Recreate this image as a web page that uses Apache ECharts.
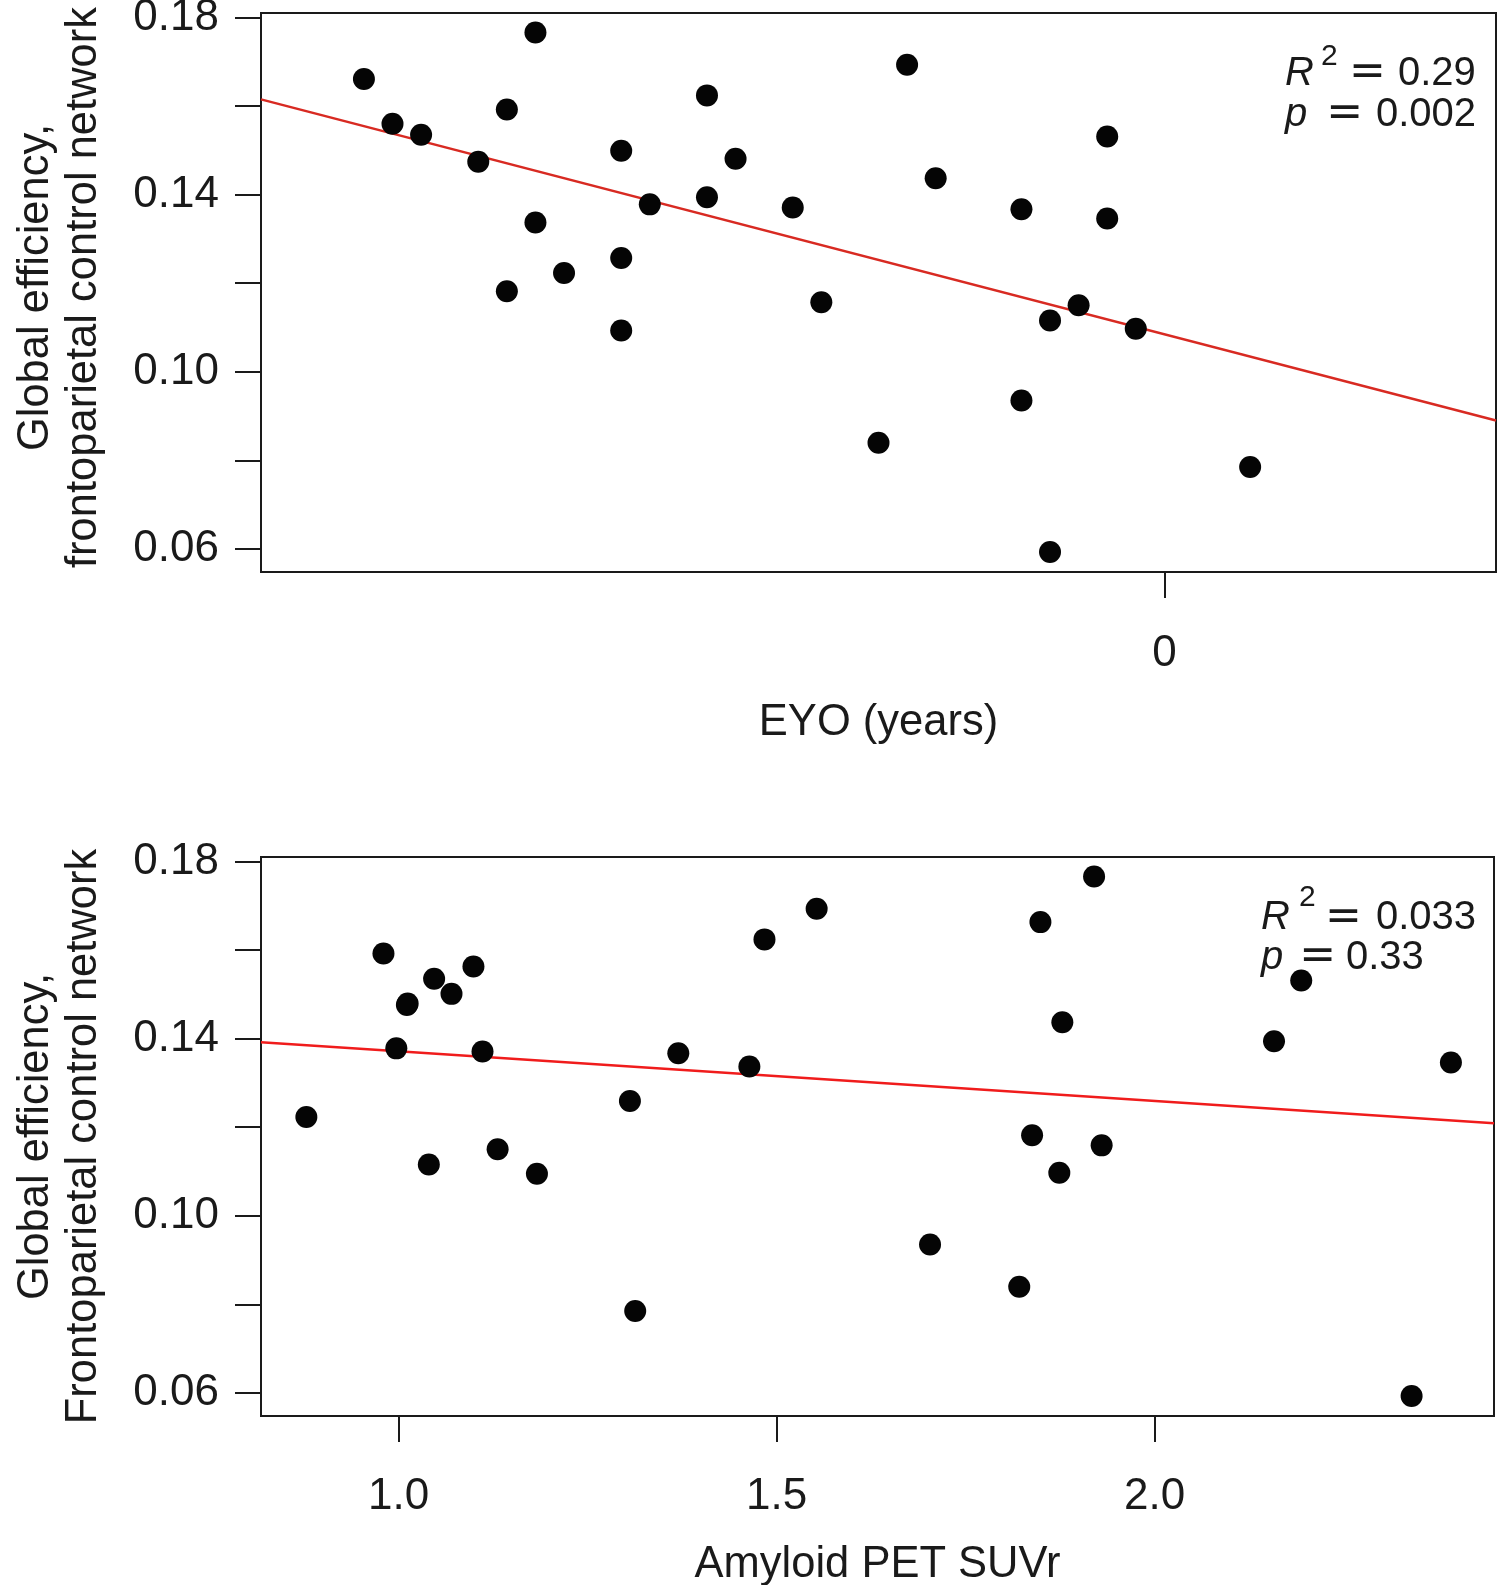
<!DOCTYPE html>
<html><head><meta charset="utf-8">
<script src="https://cdn.jsdelivr.net/npm/echarts@6/dist/echarts.min.js"></script>
<style>html,body{margin:0;padding:0;background:#fff}#c{width:1499px;height:1585px}</style>
</head><body><div id="c"></div>
<script>
// ---- Data ----
const eyoYears = [-28,-27,-26,-24,-23,-23,-22,-22,-21,-19,-19,-19,-18,-16,-16,-15,-13,-12,-10,-9,-8,-5,-5,-4,-4,-3,-2,-2,-1,3];
const effByEyo = [0.1661,0.1560,0.1535,0.1474,0.1592,0.1182,0.1766,0.1337,0.1223,0.1499,0.1257,0.1093,0.1378,0.1624,0.1394,0.1481,0.1371,0.1157,0.0840,0.1693,0.1437,0.1367,0.0935,0.1116,0.0593,0.1150,0.1531,0.1346,0.1097,0.0785];
const suvr = [0.878,0.980,0.997,1.011,1.012,1.040,1.047,1.070,1.099,1.111,1.131,1.183,1.306,1.313,1.370,1.464,1.484,1.553,1.703,1.821,1.838,1.849,1.874,1.878,1.920,1.930,2.158,2.194,2.340,2.392];
const effBySuvr = [0.1223,0.1592,0.1378,0.1476,0.1479,0.1116,0.1535,0.1501,0.1563,0.1371,0.1150,0.1095,0.1259,0.0785,0.1367,0.1337,0.1624,0.1693,0.0935,0.0840,0.1182,0.1663,0.1097,0.1437,0.1766,0.1159,0.1394,0.1531,0.0593,0.1346];
const fitEyoX = [-31.6, 11.6];
const fitEyoY = [0.1615, 0.0890];
const fitSuvrX = [0.818, 2.449];
const fitSuvrY = [0.1392, 0.1209];
const yTickValues = [0.06,0.08,0.10,0.12,0.14,0.16,0.18];
const yLabelValues = [0.06,0.10,0.14,0.18];
const eyoTickValues = [0];
const suvrTickValues = [1.0,1.5,2.0];
const yRange = [0.0548, 0.1810];
const eyoRange = [-31.6, 11.6];
const suvrRange = [0.818, 2.449];
const statsTop = ['0.29', '0.002'];
const statsBottom = ['0.033', '0.33'];
const yNameTop = 'Global efficiency,\nfrontoparietal control network';
const yNameBottom = 'Global efficiency,\nFrontoparietal control network';
const xNameTop = 'EYO (years)';
const xNameBottom = 'Amyloid PET SUVr';

// ---- Chart ----
const FONT = 'Liberation Sans, Arial, sans-serif';
const EQFONT = 'DejaVu Sans, sans-serif';
const INK = '#1a1a1a';
const zip = (a, b) => a.map((v, i) => [v, b[i]]);

function xAxis(gridIndex, range, ticks, name, gap, margin, fmt) {
  return {
    type: 'value', gridIndex, min: range[0], max: range[1],
    splitLine: {show: false}, axisLine: {show: false, onZero: false},
    axisTick: {show: true, customValues: ticks, length: 26, lineStyle: {color: INK, width: 2}},
    axisLabel: {show: true, customValues: ticks, margin, fontSize: 44, lineHeight: 48,
      fontFamily: FONT, color: INK, formatter: fmt},
    name, nameLocation: 'middle', nameGap: gap,
    nameTextStyle: {fontSize: 43.5, lineHeight: 48, fontFamily: FONT, color: INK}
  };
}
function yAxis(gridIndex, name, shiftUp) {
  return {
    type: 'value', gridIndex, min: yRange[0], max: yRange[1],
    splitLine: {show: false}, axisLine: {show: false, onZero: false},
    axisTick: {show: true, customValues: yTickValues, length: 26, lineStyle: {color: INK, width: 2}},
    axisLabel: {show: true, customValues: yLabelValues, margin: 42, fontSize: 44,
      fontFamily: FONT, color: INK, formatter: v => v.toFixed(2)},
    name, nameLocation: 'middle', nameRotate: 90, nameGap: 153.5,
    nameTextStyle: {fontSize: 43.5, lineHeight: 48, fontFamily: FONT, color: INK, align: 'center',
      padding: [0, 0, 0, shiftUp * 2]}
  };
}

// Annotation rich text: line 1 (R^2 = v) and line 2 (p = v)
function richLine1(lh, supPadL, eqPadL, eqPadR) {
  return {
    i: {fontStyle: 'italic', fontSize: 40, lineHeight: lh, fontFamily: FONT, fill: INK},
    s: {fontSize: 30, lineHeight: 30, verticalAlign: 'top', fontFamily: FONT, fill: INK, padding: [0, 0, 0, supPadL]},
    e: {fontSize: 44, lineHeight: lh, fontFamily: EQFONT, fill: INK, padding: [0, eqPadR, 0, eqPadL]},
    n: {fontSize: 40, lineHeight: lh, fontFamily: FONT, fill: INK}
  };
}
function richLine2(eqPadL, eqPadR) {
  return {
    i: {fontStyle: 'italic', fontSize: 40, lineHeight: 40, fontFamily: FONT, fill: INK},
    e: {fontSize: 44, lineHeight: 40, fontFamily: EQFONT, fill: INK, padding: [0, eqPadR, 0, eqPadL]},
    n: {fontSize: 40, lineHeight: 40, fontFamily: FONT, fill: INK}
  };
}
const line1 = v => '{i|R}{s|2}{e|=}{n|' + v + '}';
const line2 = v => '{i|p}{e|=}{n|' + v + '}';

const chart = echarts.init(document.getElementById('c'), null, {renderer: 'canvas'});
chart.setOption({
  animation: false,
  backgroundColor: '#fff',
  grid: [
    {left: 261, top: 13, width: 1235, height: 559, show: true, borderColor: INK, borderWidth: 2,
      backgroundColor: 'transparent', outerBoundsMode: 'none', containLabel: false},
    {left: 261, top: 857, width: 1233, height: 559, show: true, borderColor: INK, borderWidth: 2,
      backgroundColor: 'transparent', outerBoundsMode: 'none', containLabel: false}
  ],
  xAxis: [
    xAxis(0, eyoRange, eyoTickValues, xNameTop, 127, 58, v => String(Math.round(v))),
    xAxis(1, suvrRange, suvrTickValues, xNameBottom, 125, 57, v => v.toFixed(1))
  ],
  yAxis: [yAxis(0, yNameTop, 5), yAxis(1, yNameBottom, 0)],
  series: [
    {type: 'line', xAxisIndex: 0, yAxisIndex: 0, data: zip(fitEyoX, fitEyoY), symbol: 'none',
      lineStyle: {color: '#d82a22', width: 2.5}, z: 2, silent: true},
    {type: 'scatter', xAxisIndex: 0, yAxisIndex: 0, data: zip(eyoYears, effByEyo),
      symbol: 'circle', symbolSize: 22, itemStyle: {color: '#050505', opacity: 1}, z: 3},
    {type: 'line', xAxisIndex: 1, yAxisIndex: 1, data: zip(fitSuvrX, fitSuvrY), symbol: 'none',
      lineStyle: {color: '#f01c1c', width: 2.5}, z: 2, silent: true},
    {type: 'scatter', xAxisIndex: 1, yAxisIndex: 1, data: zip(suvr, effBySuvr),
      symbol: 'circle', symbolSize: 22, itemStyle: {color: '#050505', opacity: 1}, z: 3}
  ],
  graphic: [
    {type: 'text', left: 1285, top: 41.6, z: 10, style: {text: line1(statsTop[0]), rich: richLine1(64.8, 7, 11.5, 12), fill: INK}},
    {type: 'text', left: 1285, top: 92.8, z: 10, style: {text: line2(statsTop[1]), rich: richLine2(18.9, 13), fill: INK}},
    {type: 'text', left: 1261, top: 882.6, z: 10, style: {text: line1(statsBottom[0]), rich: richLine1(71, 9, 9.5, 14), fill: INK}},
    {type: 'text', left: 1261, top: 935.8, z: 10, style: {text: line2(statsBottom[1]), rich: richLine2(15.9, 10), fill: INK}}
  ]
});
</script></body></html>
